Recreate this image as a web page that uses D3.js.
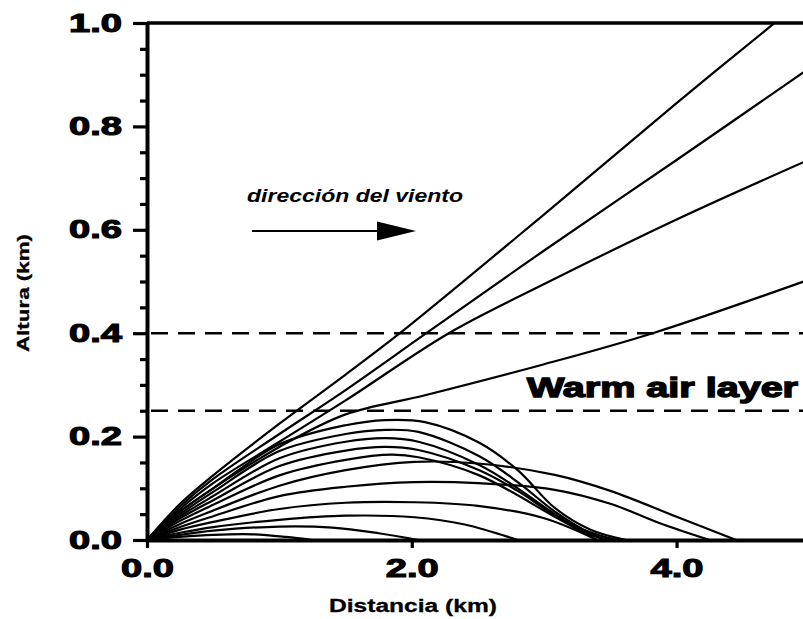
<!DOCTYPE html>
<html><head><meta charset="utf-8">
<script src="https://cdn.jsdelivr.net/npm/d3@7"></script>
<style>body{margin:0;background:#fff}svg{display:block}</style>
</head><body>
<svg id="chart" width="803" height="619"></svg>
<script>
// Axis ticks
const xTickValues = [0, 2, 4];
const xTickLabels = ["0.0", "2.0", "4.0"];
const yMajorTicks = [0, 0.2, 0.4, 0.6, 0.8, 1.0];
const yTickLabels = ["0.0", "0.2", "0.4", "0.6", "0.8", "1.0"];
const yMinorTicks = [0.05, 0.1, 0.15, 0.25, 0.3, 0.35, 0.45, 0.5, 0.55, 0.65, 0.7, 0.75, 0.85, 0.9, 0.95];

// Warm air layer bounds (km)
const layerBottom = 0.25;
const layerTop = 0.4;

// Plume trajectories: [distance km, height km]
// plumes that break through the warm layer
const plume1 = [[0,0],[0.25,0.07],[0.5,0.125],[1.0,0.225],[1.5,0.32],[1.91,0.4],[3.0,0.63],[4.0,0.845],[4.74,1.0]];
const plume2 = [[0,0],[0.25,0.065],[0.5,0.118],[1.0,0.205],[1.5,0.29],[2.11,0.4],[3.0,0.56],[4.0,0.735],[4.96,0.905]];
const plume3 = [[0,0],[0.25,0.06],[0.5,0.11],[1.0,0.19],[1.5,0.27],[2.28,0.4],[3.0,0.495],[4.0,0.62],[4.96,0.731]];
const plume4 = [[0,0],[0.25,0.055],[0.5,0.1],[1.0,0.18],[1.5,0.243],[2.1,0.28],[3.0,0.34],[3.82,0.4],[4.96,0.5]];
// plumes trapped below the layer
const plume5 = [[0,0],[0.25,0.055],[0.5,0.1],[1.0,0.185],[1.5,0.222],[1.8,0.232],[2.1,0.228],[2.51,0.188],[2.8,0.135],[3.08,0.062],[3.35,0.02],[3.62,0]];
const plume6 = [[0,0],[0.25,0.05],[0.5,0.093],[1.0,0.172],[1.5,0.205],[1.8,0.213],[2.05,0.209],[2.51,0.162],[2.8,0.112],[3.08,0.055],[3.3,0.02],[3.55,0]];
const plume7 = [[0,0],[0.25,0.046],[0.5,0.085],[1.0,0.158],[1.5,0.19],[1.8,0.197],[2.05,0.19],[2.51,0.145],[2.8,0.1],[3.08,0.05],[3.3,0.015],[3.5,0]];
const plume8 = [[0,0],[0.25,0.042],[0.5,0.077],[1.0,0.143],[1.5,0.173],[1.8,0.18],[2.05,0.174],[2.51,0.135],[2.8,0.095],[3.08,0.048],[3.45,0]];
const plume9 = [[0,0],[0.25,0.037],[0.5,0.068],[1.0,0.125],[1.5,0.155],[1.85,0.165],[2.05,0.16],[2.51,0.125],[3.08,0.045],[3.4,0]];
const plume10 = [[0,0],[0.25,0.031],[0.5,0.057],[1.0,0.105],[1.5,0.135],[2.02,0.151],[2.5,0.148],[3.08,0.126],[3.5,0.095],[4.0,0.045],[4.45,0]];
const plume11 = [[0,0],[0.25,0.025],[0.5,0.046],[1.0,0.085],[1.5,0.103],[2.02,0.112],[2.5,0.11],[3.08,0.097],[3.5,0.07],[3.9,0.03],[4.25,0]];
const plume12 = [[0,0],[0.25,0.02],[0.5,0.035],[1.0,0.06],[1.5,0.072],[2.02,0.073],[2.5,0.066],[3.0,0.042],[3.4,0]];
const plume13 = [[0,0],[0.25,0.014],[0.5,0.025],[1.0,0.039],[1.5,0.047],[2.02,0.044],[2.4,0.03],[2.8,0]];
const plume14 = [[0,0],[0.25,0.01],[0.5,0.018],[1.0,0.026],[1.4,0.024],[1.75,0.013],[2.05,0]];
const plume15 = [[0,0],[0.25,0.006],[0.5,0.01],[0.8,0.011],[1.05,0.006],[1.25,0]];

const plumes = [plume1, plume2, plume3, plume4, plume5, plume6, plume7, plume8,
                plume9, plume10, plume11, plume12, plume13, plume14, plume15];

const svg = d3.select("#chart");
const x = d3.scaleLinear().domain([0, 4.955]).range([147, 803]);
const y = d3.scaleLinear().domain([0, 1]).range([540, 23]);

const boldFont = "'Liberation Sans', Arial, sans-serif";

svg.append("defs").append("clipPath").attr("id", "plot-clip")
  .append("rect").attr("x", x(0)).attr("y", y(1)).attr("width", x(4.955) - x(0)).attr("height", y(0) - y(1));

// layer boundaries
const dashG = svg.append("g");
[layerTop, layerBottom].forEach(v => {
  dashG.append("line")
    .attr("x1", x(0)).attr("x2", x(4.955))
    .attr("y1", y(v)).attr("y2", y(v))
    .attr("stroke", "#000").attr("stroke-width", 2.6)
    .attr("stroke-dasharray", "17,10").attr("stroke-dashoffset", -4);
});

// plume trajectories
const line = d3.line().x(d => x(d[0])).y(d => y(d[1])).curve(d3.curveCatmullRom.alpha(0.5));
svg.append("g").attr("clip-path", "url(#plot-clip)")
  .selectAll("path").data(plumes).join("path")
  .attr("d", line).attr("fill", "none").attr("stroke", "#000").attr("stroke-width", 2.2);

// heavy lettering used for tick labels and the layer label
const heavy = sel => sel.attr("font-family", boldFont).attr("font-weight", "bold")
  .attr("fill", "#000").attr("stroke", "#000").attr("stroke-width", 1.1)
  .attr("lengthAdjust", "spacingAndGlyphs");

// y axis: minor ticks
svg.append("g").attr("transform", `translate(${x(0)},0)`)
  .call(d3.axisLeft(y).tickValues(yMinorTicks).tickSize(7).tickSizeOuter(0).tickFormat(""))
  .call(g => g.select(".domain").remove())
  .call(g => g.selectAll("line").attr("stroke-width", 3.2));

// y axis: major ticks and labels
svg.append("g").attr("transform", `translate(${x(0)},0)`)
  .call(d3.axisLeft(y).tickValues(yMajorTicks).tickSize(14).tickSizeOuter(0).tickPadding(11)
        .tickFormat((d, i) => yTickLabels[i]))
  .call(g => g.select(".domain").attr("stroke-width", 4))
  .call(g => g.selectAll("line").attr("stroke-width", 3.2))
  .call(g => g.selectAll("text").call(heavy).attr("font-size", 25).attr("textLength", 53));

// x axis
svg.append("g").attr("transform", `translate(0,${y(0)})`)
  .call(d3.axisBottom(x).tickValues(xTickValues).tickSize(8).tickSizeOuter(0).tickPadding(11)
        .tickFormat((d, i) => xTickLabels[i]))
  .call(g => g.select(".domain").attr("stroke-width", 4))
  .call(g => g.selectAll("line").attr("stroke-width", 3.2))
  .call(g => g.selectAll("text").call(heavy).attr("font-size", 26).attr("textLength", 53));

// top frame line
svg.append("line").attr("x1", x(0)).attr("x2", x(4.955)).attr("y1", y(1)).attr("y2", y(1))
  .attr("stroke", "#000").attr("stroke-width", 3.5);

// axis titles
svg.append("text").attr("transform", "translate(29,293) rotate(-90)")
  .attr("text-anchor", "middle").attr("font-family", boldFont).attr("font-weight", "bold")
  .attr("font-size", 17).attr("textLength", 118).attr("lengthAdjust", "spacingAndGlyphs")
  .attr("stroke", "#000").attr("stroke-width", 0.3)
  .text("Altura (km)");
svg.append("text").attr("x", 413).attr("y", 612)
  .attr("text-anchor", "middle").attr("font-family", boldFont).attr("font-weight", "bold")
  .attr("font-size", 18).attr("textLength", 168).attr("lengthAdjust", "spacingAndGlyphs")
  .attr("stroke", "#000").attr("stroke-width", 0.3)
  .text("Distancia (km)");

// layer label
svg.append("text").attr("x", 527).attr("y", 397).call(heavy)
  .attr("font-size", 28).attr("textLength", 271).attr("stroke-width", 1.4)
  .text("Warm air layer");

// wind direction note and arrow
svg.append("text").attr("x", 247).attr("y", 202)
  .attr("font-family", boldFont).attr("font-weight", "bold").attr("font-style", "italic")
  .attr("font-size", 19).attr("textLength", 216).attr("lengthAdjust", "spacingAndGlyphs")
  .text("dirección del viento");
svg.append("line").attr("x1", 252).attr("x2", 382).attr("y1", 231).attr("y2", 231)
  .attr("stroke", "#000").attr("stroke-width", 2.2);
svg.append("path").attr("d", d3.line()([[377, 221.5], [416, 231], [377, 240.5]]) + "Z").attr("fill", "#000");
</script>
</body></html>
